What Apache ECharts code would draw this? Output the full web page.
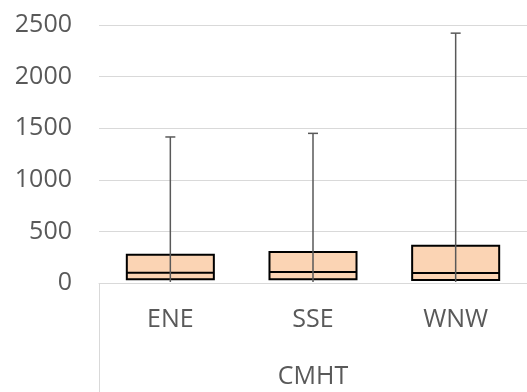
<!DOCTYPE html>
<html><head><meta charset="utf-8">
<script src="https://cdn.jsdelivr.net/npm/echarts@6/dist/echarts.min.js"></script>
<style>html,body{margin:0;padding:0;background:#fff}#c{width:527px;height:392px}</style>
</head><body><div id="c"></div>
<script>
var categories = ['ENE', 'SSE', 'WNW'];
var groupLabel = ['CMHT'];
var minV = [10, 10, 10];
var q1V = [36, 36, 29];
var medV = [100, 106, 97];
var q3V = [274, 300, 361];
var maxV = [1415, 1450, 2421];
var yTicks = [0, 500, 1000, 1500, 2000, 2500];

var data = categories.map(function (c, i) { return [i, minV[i], q1V[i], medV[i], q3V[i], maxV[i]]; });
var font = '"Open Sans", "Liberation Sans", sans-serif';
var chart = echarts.init(document.getElementById('c'), null, { renderer: 'canvas' });
chart.setOption({
  animation: false,
  grid: { left: 99, right: -1, top: 25, bottom: 109, containLabel: false },
  xAxis: [{
    type: 'category', data: categories, position: 'bottom',
    axisLine: { show: true, lineStyle: { color: '#D9D9D9', width: 1 } },
    axisTick: { show: false },
    axisLabel: { color: '#595959', fontSize: 25, fontFamily: font, margin: 24 }
  }, {
    type: 'category', data: groupLabel, position: 'bottom',
    axisLine: { show: false },
    axisTick: { show: true, length: 110, lineStyle: { color: '#D9D9D9', width: 1 } },
    axisLabel: { color: '#595959', fontSize: 25, fontFamily: font, margin: 81 }
  }],
  yAxis: {
    type: 'value', min: yTicks[0], max: yTicks[yTicks.length - 1], interval: 500,
    axisLine: { show: false }, axisTick: { show: false },
    splitLine: { lineStyle: { color: '#D9D9D9', width: 1 } },
    axisLabel: { color: '#595959', fontSize: 25, fontFamily: font, margin: 27,
      formatter: function (v) { return String(v); } }
  },
  series: [{
    type: 'custom', xAxisIndex: 0,
    encode: { x: 0, y: [1, 2, 3, 4, 5] },
    data: data,
    renderItem: function (params, api) {
      var i = api.value(0);
      var pMin = api.coord([i, api.value(1)]);
      var pQ1 = api.coord([i, api.value(2)]);
      var pMed = api.coord([i, api.value(3)]);
      var pQ3 = api.coord([i, api.value(4)]);
      var pMax = api.coord([i, api.value(5)]);
      var bw = api.size([1, 0])[0] * 0.61;
      var x = pQ1[0];
      var cap = 5;
      return {
        type: 'group',
        children: [
          { type: 'rect', shape: { x: x - bw / 2, y: pQ3[1], width: bw, height: pQ1[1] - pQ3[1] },
            style: { fill: '#FBD4B4', stroke: '#000', lineWidth: 2 } },
          { type: 'line', shape: { x1: x - bw / 2, y1: pMed[1], x2: x + bw / 2, y2: pMed[1] },
            style: { stroke: '#000', lineWidth: 2 } },
          { type: 'line', shape: { x1: x, y1: pMin[1], x2: x, y2: pMax[1] },
            style: { stroke: '#595959', lineWidth: 1.5 } },
          { type: 'line', shape: { x1: x - cap, y1: pMax[1], x2: x + cap, y2: pMax[1] },
            style: { stroke: '#595959', lineWidth: 1.5 } }
        ]
      };
    }
  }]
});
</script></body></html>
